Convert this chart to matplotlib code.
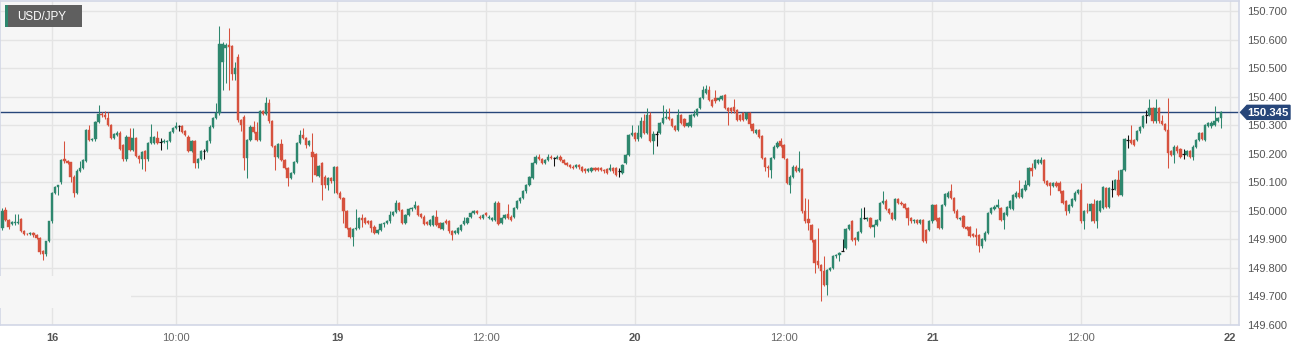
import numpy as np
import pandas as pd
import matplotlib
matplotlib.use("Agg")
import matplotlib.pyplot as plt
import matplotlib.transforms as mtransforms
from matplotlib.patches import Rectangle, Polygon

plt.rcParams["font.family"] = ["Liberation Sans", "DejaVu Sans"]

W, H, DPI = 1310, 352, 100

symbol = "USD/JPY"
# two trading sessions of 15-minute candles (weekend collapsed)
session_starts = ["2024-02-15 20:00", "2024-02-19 00:00"]
session_ends = ["2024-02-16 22:45", "2024-02-21 23:15"]

opens = [
    # 15th 20:00 .. 23:45
    149.940, 150.004, 149.969, 149.954, 149.956, 149.958, 149.970, 149.930, 149.920, 149.918,
    149.921, 149.916, 149.906, 149.858, 149.848, 149.893,
    # 16th
    149.963, 150.062, 150.085, 150.100, 150.180, 150.173, 150.170, 150.120, 150.062, 150.140,
    150.150, 150.173, 150.284, 150.247, 150.250, 150.310, 150.340, 150.335, 150.325, 150.300,
    150.255, 150.266, 150.274, 150.230, 150.180, 150.260, 150.214, 150.255, 150.193, 150.180,
    150.210, 150.180, 150.237, 150.238, 150.255, 150.240, 150.240, 150.240, 150.245, 150.275,
    150.290, 150.296, 150.298, 150.280, 150.260, 150.210, 150.243, 150.167, 150.181, 150.210,
    150.210, 150.243, 150.295, 150.324, 150.342, 150.520, 150.570, 150.580, 150.578, 150.480,
    150.538, 150.318, 150.330, 150.185, 150.249, 150.295, 150.277, 150.249, 150.348, 150.340,
    150.377, 150.313, 150.226, 150.190, 150.235, 150.179, 150.150, 150.115, 150.132, 150.170,
    150.237, 150.266, 150.255, 150.231, 150.205, 150.200, 150.122, 150.167, 150.120, 150.091,
    150.114, 150.103,
    # 19th
    150.152, 150.062, 150.044, 150.000, 149.940, 149.908, 149.936, 149.940, 149.974, 149.975,
    149.965, 149.963, 149.945, 149.924, 149.933, 149.954, 149.957, 149.963, 149.986, 149.995,
    150.027, 150.004, 149.959, 149.986, 150.005, 150.009, 150.018, 149.990, 149.980, 149.960,
    149.951, 149.951, 149.980, 149.957, 149.937, 149.966, 149.963, 149.928, 149.922, 149.922,
    149.933, 149.954, 149.959, 149.980, 149.992, 149.998, 149.980, 149.974, 149.992, 149.974,
    149.968, 149.968, 150.029, 149.959, 149.974, 149.989, 149.980, 149.980, 150.009, 150.033,
    150.044, 150.068, 150.091, 150.114, 150.167, 150.190, 150.181, 150.167, 150.179, 150.190,
    150.184, 150.184, 150.190, 150.179, 150.167, 150.161, 150.155, 150.155, 150.161, 150.152,
    150.146, 150.140, 150.140, 150.149, 150.149, 150.149, 150.144, 150.146, 150.144, 150.149,
    150.149, 150.138, 150.132, 150.167, 150.196, 150.266,
    # 20th
    150.272, 150.250, 150.260, 150.316, 150.274, 150.336, 150.243, 150.270, 150.272, 150.307,
    150.324, 150.328, 150.321, 150.298, 150.284, 150.336, 150.320, 150.298, 150.298, 150.333,
    150.336, 150.359, 150.394, 150.414, 150.424, 150.389, 150.394, 150.389, 150.391, 150.406,
    150.359, 150.359, 150.365, 150.354, 150.336, 150.342, 150.321, 150.342, 150.305, 150.272,
    150.284, 150.263, 150.184, 150.155, 150.144, 150.184, 150.225, 150.243, 150.231, 150.181,
    150.091, 150.120, 150.155, 150.140, 150.146, 150.000, 149.972, 149.951, 149.898, 149.823,
    149.810, 149.788, 149.741, 149.793, 149.799, 149.840, 149.846, 149.860, 149.870, 149.936,
    149.963, 149.904, 149.898, 149.925, 149.974, 149.970, 149.974, 149.945, 149.951, 149.968,
    150.027, 150.036, 150.006, 149.992, 149.971, 150.042, 150.029, 150.025, 150.009, 149.974,
    149.963, 149.968, 149.959, 149.968, 149.933, 149.933,
    # 21st
    149.963, 150.021, 149.974, 149.939, 150.021, 150.050, 150.068, 150.044, 150.001, 149.971,
    149.982, 149.943, 149.942, 149.918, 149.916, 149.916, 149.875, 149.898, 149.924, 149.992,
    150.006, 150.013, 150.009, 149.968, 149.986, 150.009, 150.006, 150.050, 150.064, 150.050,
    150.074, 150.091, 150.149, 150.149, 150.167, 150.167, 150.179, 150.103, 150.097, 150.088,
    150.099, 150.099, 150.068, 150.033, 149.998, 150.018, 150.039, 150.064, 150.074, 149.963,
    150.001, 149.998, 150.025, 149.963, 150.000, 150.009, 150.079, 150.015, 150.076, 150.076,
    150.109, 150.056, 150.144, 150.249, 150.249, 150.249, 150.249, 150.278, 150.295, 150.336,
    150.336, 150.359, 150.313, 150.359, 150.313, 150.305, 150.284, 150.208, 150.196, 150.225,
    150.216, 150.200, 150.196, 150.208, 150.190, 150.225, 150.249, 150.272, 150.249, 150.298,
    150.298, 150.301, 150.316, 150.324,
]

closes = [
    149.998, 149.969, 149.945, 149.962, 149.960, 149.962, 149.930, 149.920, 149.918, 149.922,
    149.914, 149.906, 149.854, 149.848, 149.893, 149.963,
    150.062, 150.085, 150.090, 150.178, 150.173, 150.168, 150.120, 150.062, 150.140, 150.150,
    150.179, 150.284, 150.247, 150.250, 150.310, 150.340, 150.335, 150.327, 150.300, 150.255,
    150.270, 150.274, 150.216, 150.180, 150.260, 150.214, 150.255, 150.193, 150.180, 150.207,
    150.180, 150.237, 150.258, 150.258, 150.237, 150.240, 150.245, 150.245, 150.275, 150.290,
    150.296, 150.296, 150.275, 150.266, 150.210, 150.243, 150.167, 150.181, 150.208, 150.210,
    150.243, 150.295, 150.324, 150.342, 150.583, 150.583, 150.580, 150.575, 150.480, 150.500,
    150.318, 150.300, 150.185, 150.249, 150.295, 150.277, 150.249, 150.348, 150.340, 150.377,
    150.313, 150.226, 150.190, 150.235, 150.179, 150.150, 150.115, 150.132, 150.170, 150.237,
    150.266, 150.255, 150.231, 150.243, 150.190, 150.126, 150.158, 150.091, 150.091, 150.114,
    150.103, 150.152,
    150.062, 150.044, 150.000, 149.940, 149.908, 149.936, 149.940, 149.974, 149.968, 149.957,
    149.959, 149.939, 149.924, 149.933, 149.954, 149.957, 149.963, 149.986, 149.995, 150.027,
    150.004, 149.959, 149.986, 150.005, 150.009, 150.020, 149.986, 149.980, 149.954, 149.954,
    149.968, 149.982, 149.951, 149.939, 149.957, 149.959, 149.928, 149.916, 149.928, 149.939,
    149.951, 149.963, 149.974, 149.992, 149.998, 149.992, 149.974, 149.986, 149.986, 149.980,
    149.974, 150.029, 149.954, 149.974, 149.986, 149.974, 149.968, 150.009, 150.033, 150.044,
    150.068, 150.091, 150.118, 150.167, 150.190, 150.181, 150.167, 150.179, 150.190, 150.184,
    150.184, 150.190, 150.179, 150.167, 150.161, 150.155, 150.149, 150.161, 150.152, 150.140,
    150.138, 150.146, 150.149, 150.144, 150.144, 150.143, 150.138, 150.132, 150.149, 150.138,
    150.126, 150.138, 150.161, 150.196, 150.266, 150.272,
    150.250, 150.272, 150.316, 150.274, 150.336, 150.243, 150.270, 150.270, 150.307, 150.324,
    150.328, 150.321, 150.298, 150.284, 150.336, 150.307, 150.298, 150.307, 150.336, 150.340,
    150.356, 150.394, 150.424, 150.426, 150.389, 150.368, 150.383, 150.394, 150.403, 150.359,
    150.348, 150.348, 150.348, 150.319, 150.319, 150.319, 150.342, 150.305, 150.278, 150.284,
    150.260, 150.184, 150.155, 150.149, 150.184, 150.225, 150.239, 150.228, 150.184, 150.097,
    150.120, 150.155, 150.140, 150.149, 149.998, 149.963, 149.957, 149.898, 149.817, 149.810,
    149.788, 149.741, 149.793, 149.799, 149.840, 149.846, 149.852, 149.860, 149.936, 149.951,
    149.898, 149.898, 149.925, 149.974, 149.974, 149.975, 149.945, 149.951, 149.968, 150.027,
    150.033, 150.006, 149.992, 149.971, 150.041, 150.029, 150.025, 150.009, 149.974, 149.963,
    149.968, 149.957, 149.968, 149.896, 149.896, 149.963,
    150.021, 149.968, 149.939, 150.021, 150.058, 150.064, 150.044, 149.998, 149.974, 149.974,
    149.943, 149.936, 149.912, 149.912, 149.908, 149.875, 149.901, 149.924, 149.992, 150.009,
    150.015, 150.021, 149.968, 149.992, 150.013, 150.033, 150.056, 150.064, 150.050, 150.076,
    150.091, 150.149, 150.140, 150.179, 150.179, 150.179, 150.103, 150.091, 150.088, 150.097,
    150.088, 150.068, 150.029, 149.998, 150.021, 150.041, 150.064, 150.074, 149.963, 149.998,
    149.998, 150.025, 149.963, 150.033, 150.033, 150.083, 150.015, 150.079, 150.076, 150.109,
    150.056, 150.144, 150.251, 150.249, 150.237, 150.231, 150.278, 150.293, 150.333, 150.336,
    150.359, 150.313, 150.359, 150.313, 150.305, 150.284, 150.202, 150.196, 150.225, 150.208,
    150.190, 150.200, 150.208, 150.190, 150.225, 150.249, 150.272, 150.251, 150.301, 150.307,
    150.309, 150.316, 150.324, 150.345,
]

highs = [
    150.010, 150.015, 149.972, 149.966, 149.990, 149.990, 149.974, 149.933, 149.924, 149.926,
    149.925, 149.920, 149.910, 149.862, 149.896, 149.966,
    150.066, 150.088, 150.092, 150.182, 150.245, 150.178, 150.172, 150.124, 150.145, 150.173,
    150.183, 150.288, 150.300, 150.254, 150.314, 150.370, 150.345, 150.350, 150.347, 150.304,
    150.274, 150.278, 150.278, 150.234, 150.264, 150.290, 150.290, 150.259, 150.197, 150.211,
    150.214, 150.241, 150.305, 150.262, 150.278, 150.255, 150.250, 150.249, 150.279, 150.294,
    150.310, 150.302, 150.302, 150.284, 150.264, 150.247, 150.247, 150.185, 150.212, 150.215,
    150.247, 150.299, 150.328, 150.377, 150.648, 150.590, 150.587, 150.639, 150.582, 150.520,
    150.550, 150.322, 150.334, 150.253, 150.299, 150.313, 150.310, 150.352, 150.352, 150.398,
    150.390, 150.317, 150.230, 150.239, 150.250, 150.183, 150.154, 150.136, 150.174, 150.241,
    150.283, 150.290, 150.259, 150.247, 150.274, 150.204, 150.162, 150.171, 150.124, 150.118,
    150.118, 150.156,
    150.156, 150.070, 150.050, 150.004, 149.944, 149.940, 150.006, 149.978, 149.990, 149.979,
    149.969, 149.967, 149.949, 149.937, 149.958, 149.960, 149.967, 150.000, 149.999, 150.039,
    150.031, 150.008, 149.990, 150.009, 150.013, 150.033, 150.022, 149.994, 149.984, 149.964,
    149.972, 149.986, 150.004, 149.961, 149.961, 149.970, 149.967, 149.932, 149.932, 149.943,
    149.955, 149.980, 149.978, 149.996, 150.002, 150.002, 149.984, 149.990, 149.996, 149.984,
    149.978, 150.033, 150.033, 149.978, 149.990, 150.025, 149.984, 150.013, 150.037, 150.048,
    150.072, 150.095, 150.122, 150.171, 150.194, 150.200, 150.185, 150.183, 150.198, 150.194,
    150.190, 150.194, 150.194, 150.183, 150.171, 150.165, 150.159, 150.165, 150.165, 150.156,
    150.150, 150.150, 150.153, 150.153, 150.153, 150.153, 150.148, 150.150, 150.165, 150.153,
    150.153, 150.150, 150.165, 150.200, 150.270, 150.300,
    150.276, 150.300, 150.330, 150.340, 150.360, 150.345, 150.278, 150.278, 150.311, 150.371,
    150.356, 150.359, 150.325, 150.302, 150.356, 150.340, 150.324, 150.311, 150.340, 150.354,
    150.360, 150.398, 150.438, 150.441, 150.438, 150.393, 150.424, 150.398, 150.407, 150.410,
    150.363, 150.363, 150.391, 150.358, 150.340, 150.346, 150.346, 150.346, 150.309, 150.288,
    150.288, 150.267, 150.188, 150.159, 150.188, 150.229, 150.243, 150.254, 150.235, 150.185,
    150.124, 150.159, 150.159, 150.208, 150.150, 150.044, 150.041, 149.955, 149.902, 149.940,
    149.814, 149.840, 149.797, 149.803, 149.844, 149.850, 149.856, 149.901, 149.940, 149.955,
    149.967, 149.908, 149.929, 150.009, 150.013, 149.979, 149.978, 149.955, 149.972, 150.031,
    150.071, 150.040, 150.010, 149.996, 150.045, 150.046, 150.033, 150.029, 150.013, 149.978,
    149.972, 149.972, 149.972, 149.972, 149.937, 149.967,
    150.025, 150.025, 149.978, 150.025, 150.062, 150.068, 150.095, 150.048, 150.005, 149.978,
    149.986, 149.947, 149.946, 149.922, 149.940, 149.920, 149.905, 149.928, 149.996, 150.013,
    150.019, 150.041, 150.013, 149.996, 150.017, 150.037, 150.060, 150.068, 150.109, 150.080,
    150.109, 150.153, 150.167, 150.183, 150.183, 150.190, 150.183, 150.107, 150.101, 150.101,
    150.103, 150.103, 150.072, 150.037, 150.025, 150.045, 150.068, 150.078, 150.099, 150.002,
    150.027, 150.029, 150.041, 150.037, 150.037, 150.087, 150.083, 150.083, 150.109, 150.113,
    150.144, 150.148, 150.255, 150.266, 150.301, 150.253, 150.282, 150.297, 150.337, 150.354,
    150.391, 150.363, 150.391, 150.363, 150.336, 150.309, 150.394, 150.212, 150.229, 150.229,
    150.220, 150.216, 150.212, 150.212, 150.229, 150.253, 150.276, 150.276, 150.305, 150.311,
    150.313, 150.368, 150.328, 150.349,
]

lows = [
    149.934, 149.965, 149.936, 149.950, 149.952, 149.954, 149.926, 149.916, 149.914, 149.914,
    149.910, 149.902, 149.850, 149.828, 149.840, 149.890,
    149.958, 150.058, 150.056, 150.095, 150.168, 150.164, 150.100, 150.050, 150.058, 150.136,
    150.146, 150.170, 150.243, 150.244, 150.246, 150.306, 150.330, 150.322, 150.296, 150.250,
    150.252, 150.262, 150.212, 150.176, 150.176, 150.210, 150.210, 150.189, 150.167, 150.146,
    150.140, 150.176, 150.233, 150.234, 150.233, 150.214, 150.236, 150.216, 150.241, 150.271,
    150.286, 150.280, 150.271, 150.262, 150.206, 150.206, 150.150, 150.150, 150.177, 150.180,
    150.206, 150.239, 150.291, 150.320, 150.336, 150.424, 150.447, 150.424, 150.459, 150.459,
    150.310, 150.280, 150.144, 150.115, 150.245, 150.273, 150.245, 150.245, 150.336, 150.336,
    150.309, 150.222, 150.144, 150.186, 150.175, 150.146, 150.088, 150.111, 150.128, 150.166,
    150.233, 150.251, 150.220, 150.227, 150.100, 150.122, 150.118, 150.039, 150.080, 150.074,
    150.099, 150.064,
    150.058, 150.040, 149.957, 149.936, 149.904, 149.875, 149.932, 149.936, 149.945, 149.953,
    149.955, 149.925, 149.920, 149.920, 149.929, 149.945, 149.953, 149.959, 149.982, 149.991,
    150.000, 149.955, 149.955, 149.982, 150.001, 150.005, 149.982, 149.976, 149.950, 149.950,
    149.947, 149.947, 149.947, 149.935, 149.933, 149.955, 149.924, 149.898, 149.918, 149.918,
    149.929, 149.950, 149.955, 149.976, 149.988, 149.988, 149.970, 149.970, 149.982, 149.970,
    149.964, 149.964, 149.950, 149.955, 149.970, 149.970, 149.964, 149.976, 150.005, 150.029,
    150.040, 150.064, 150.087, 150.110, 150.163, 150.177, 150.163, 150.163, 150.175, 150.180,
    150.158, 150.180, 150.175, 150.163, 150.157, 150.151, 150.145, 150.151, 150.148, 150.136,
    150.134, 150.136, 150.136, 150.140, 150.140, 150.139, 150.134, 150.128, 150.140, 150.134,
    150.122, 150.120, 150.128, 150.163, 150.192, 150.262,
    150.246, 150.246, 150.256, 150.270, 150.270, 150.240, 150.200, 150.228, 150.268, 150.303,
    150.320, 150.317, 150.294, 150.280, 150.280, 150.303, 150.294, 150.294, 150.294, 150.329,
    150.332, 150.355, 150.390, 150.410, 150.385, 150.364, 150.379, 150.385, 150.387, 150.355,
    150.301, 150.344, 150.344, 150.315, 150.313, 150.315, 150.317, 150.289, 150.274, 150.268,
    150.256, 150.180, 150.138, 150.120, 150.114, 150.180, 150.221, 150.224, 150.180, 150.093,
    150.064, 150.116, 150.136, 150.136, 149.994, 149.959, 149.933, 149.890, 149.782, 149.800,
    149.683, 149.737, 149.706, 149.789, 149.795, 149.836, 149.823, 149.858, 149.866, 149.932,
    149.894, 149.881, 149.894, 149.921, 149.970, 149.966, 149.941, 149.908, 149.947, 149.964,
    150.023, 150.002, 149.988, 149.967, 149.967, 150.025, 150.021, 150.005, 149.951, 149.959,
    149.959, 149.953, 149.955, 149.892, 149.887, 149.929,
    149.959, 149.964, 149.935, 149.935, 150.017, 150.046, 150.040, 149.994, 149.970, 149.967,
    149.939, 149.932, 149.908, 149.908, 149.881, 149.854, 149.871, 149.894, 149.920, 149.988,
    150.002, 150.009, 149.964, 149.936, 149.982, 150.005, 150.002, 150.046, 150.046, 150.046,
    150.070, 150.087, 150.123, 150.145, 150.163, 150.163, 150.099, 150.087, 150.056, 150.084,
    150.084, 150.064, 150.025, 149.986, 149.994, 150.014, 150.035, 150.060, 149.959, 149.936,
    149.994, 149.966, 149.959, 149.939, 149.996, 150.005, 150.011, 150.011, 150.050, 150.072,
    150.052, 150.052, 150.140, 150.219, 150.233, 150.227, 150.245, 150.274, 150.291, 150.307,
    150.332, 150.309, 150.309, 150.309, 150.301, 150.280, 150.149, 150.192, 150.167, 150.204,
    150.186, 150.181, 150.192, 150.186, 150.179, 150.221, 150.245, 150.247, 150.245, 150.294,
    150.289, 150.297, 150.312, 150.289,
]

tick_times = ["2024-02-16 00:00", "2024-02-16 10:00", "2024-02-19 00:00", "2024-02-19 12:00",
              "2024-02-20 00:00", "2024-02-20 12:00", "2024-02-21 00:00", "2024-02-21 12:00",
              "2024-02-22 00:00"]
tick_labels = ["16", "10:00", "19", "12:00", "20", "12:00", "21", "12:00", "22"]
y_ticks = [149.6, 149.7, 149.8, 149.9, 150.0, 150.1, 150.2, 150.3, 150.4, 150.5, 150.6, 150.7]

GREEN = "#2e876e"
RED = "#d6523e"
DOJI = "#111111"
NAVY = "#27467a"
PLOT_BG = "#f6f6f6"

# ---------- build time axis ----------
times = pd.DatetimeIndex(np.concatenate([
    pd.date_range(s, e, freq="15min").values for s, e in zip(session_starts, session_ends)]))
o = np.array(opens); c = np.array(closes); hi = np.array(highs); lo = np.array(lows)
n = len(times)
assert len(o) == n and len(c) == n and len(hi) == n and len(lo) == n, (n, len(o), len(c), len(hi), len(lo))
x = np.arange(n)
step = pd.Timedelta("15min")


def time_pos(t):
    t = pd.Timestamp(t)
    i = int(np.searchsorted(times.values, t.to_datetime64(), side="right")) - 1
    return i + (t - times[i]) / step


tick_pos = [time_pos(t) for t in tick_times]

# ---------- figure ----------
fig = plt.figure(figsize=(W / DPI, H / DPI), dpi=DPI, facecolor="white")
ax = fig.add_axes([0 / W, 27 / H, 1239 / W, 324 / H])
ax.set_facecolor(PLOT_BG)

px_per_slot = 3.1
x0 = tick_pos[0] - 52 / px_per_slot
x1 = tick_pos[0] + (1239 - 52) / px_per_slot
ax.set_xlim(x0, x1)
ax.set_ylim(149.6, 150.735)

for s in ax.spines.values():
    s.set_color("#d2d7e6")
    s.set_linewidth(1.2)

ax.set_yticks(y_ticks)
ax.set_xticks(tick_pos)
ax.set_xticklabels(tick_labels)
ax.grid(True, color="#e4e4e4", linewidth=1.0, zorder=0)
ax.set_axisbelow(True)
ax.yaxis.tick_right()
ax.yaxis.set_major_formatter(matplotlib.ticker.FormatStrFormatter("%.3f"))
ax.tick_params(axis="y", length=0, pad=6, labelsize=8, labelcolor="#555555")
ax.tick_params(axis="x", length=0, pad=6, labelsize=8, labelcolor="#666666")
for lab, txt in zip(ax.get_xticklabels(), tick_labels):
    if ":" not in txt:
        lab.set_fontweight("bold")
        lab.set_color("#555555")

# ---------- candles ----------
colors = np.where(c > o, GREEN, np.where(c < o, RED, DOJI))
ax.vlines(x, lo, hi, colors=colors, linewidth=0.75, zorder=3)
body_lo = np.minimum(o, c)
body_h = np.abs(c - o)
is_doji = c == o
ax.bar(x[~is_doji], body_h[~is_doji], bottom=body_lo[~is_doji], width=0.72,
       color=colors[~is_doji], edgecolor=colors[~is_doji], linewidth=0.3, zorder=4)
ax.hlines(o[is_doji], x[is_doji] - 0.45, x[is_doji] + 0.45, colors=DOJI, linewidth=0.9, zorder=4)

# ---------- last price line and tag ----------
last = c[-1]
ax.axhline(last, color=NAVY, linewidth=1.0, zorder=2.5)
bt = mtransforms.blended_transform_factory(ax.transAxes, ax.transData)
dy = 7.0 / (324 / (150.735 - 149.6))
ax_w = 1239.0
tag = Polygon([(1240.5 / ax_w, last), (1247 / ax_w, last + dy), (1290 / ax_w, last + dy),
               (1290 / ax_w, last - dy), (1247 / ax_w, last - dy)], closed=True,
              transform=bt, facecolor=NAVY, edgecolor=NAVY, clip_on=False, zorder=10)
ax.add_patch(tag)
ax.text(1268 / ax_w, last, f"{last:.3f}", transform=bt, ha="center", va="center_baseline",
        color="white", fontsize=8.2, fontweight="bold", clip_on=False, zorder=11)

# ---------- symbol badge ----------
fig.patches.append(Rectangle((5 / W, 1 - 27 / H), 77 / W, 22 / H, transform=fig.transFigure,
                             facecolor="#5f5f5f", edgecolor="none", zorder=5))
fig.patches.append(Rectangle((5 / W, 1 - 27 / H), 2.5 / W, 22 / H, transform=fig.transFigure,
                             facecolor=GREEN, edgecolor="none", zorder=6))
fig.text(17 / W, 1 - 16.5 / H, symbol, color="white", fontsize=8.4, va="center", ha="left", zorder=7)

# patch at lower-left of plot area where grid and border are hidden (as in reference)
fig.patches.append(Rectangle((0, 1 - 308 / H), 131 / W, 32 / H, transform=fig.transFigure,
                             facecolor=PLOT_BG, edgecolor="none", zorder=4))

fig.savefig("out.png", dpi=DPI, facecolor="white")
